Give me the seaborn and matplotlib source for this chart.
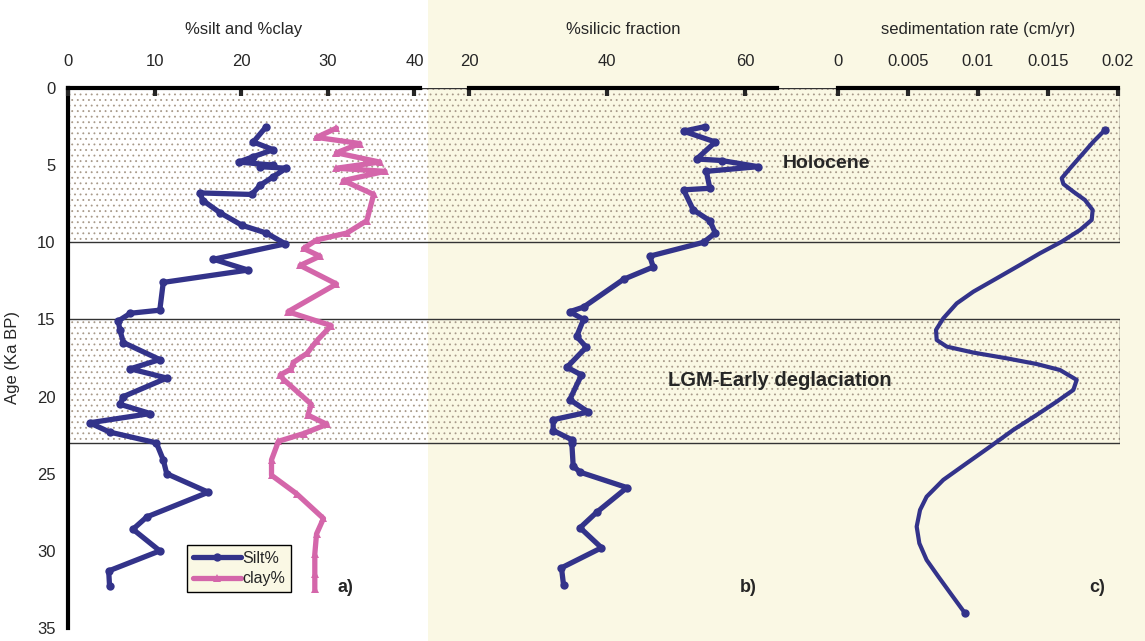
import matplotlib
matplotlib.use("Agg")
import matplotlib.pyplot as plt
import seaborn as sns
from matplotlib.patches import Rectangle

# panel a: silt and clay (%)
silt_age = [2.5, 3.5, 4.0, 4.45, 4.8, 5.0, 5.1, 5.2, 5.75, 6.3, 6.9, 6.8, 7.3, 8.1, 8.9, 9.4, 10.1,
            11.1, 11.8, 12.6, 14.4, 14.6, 15.1, 15.7, 16.5, 17.6, 18.2, 18.8, 20.0, 20.5, 21.1,
            21.7, 22.3, 23.0, 24.1, 25.0, 26.2, 27.8, 28.6, 30.0, 31.3, 32.3]
silt_pct = [22.9, 21.4, 23.7, 21.4, 19.7, 23.7, 22.2, 25.2, 23.7, 22.2, 21.2, 15.2, 15.6, 17.6, 20.1, 22.9, 25.1,
            16.8, 20.8, 11.0, 10.6, 7.2, 5.8, 6.0, 6.4, 10.6, 7.2, 11.4, 6.4, 6.0, 9.5,
            2.5, 4.8, 10.2, 11.0, 11.4, 16.2, 9.1, 7.5, 10.6, 4.7, 4.8]

clay_age = [2.6, 3.2, 3.6, 4.2, 4.8, 5.2, 5.4, 6.0, 6.9, 8.6, 9.4, 9.85, 10.4, 10.9, 11.5, 12.7,
            14.5, 15.4, 16.4, 17.2, 17.8, 18.2, 18.6, 18.9, 20.5, 21.2, 21.8, 22.4, 22.9, 24.1,
            25.1, 26.3, 27.9, 28.9, 30.2, 31.5, 32.5]
clay_pct = [31.0, 28.7, 33.7, 31.0, 36.0, 31.0, 36.6, 31.8, 35.3, 34.5, 32.2, 28.7, 27.2, 29.1, 26.8, 31.0,
            25.4, 30.4, 28.7, 27.6, 26.0, 25.8, 24.5, 24.9, 28.1, 27.7, 29.9, 27.2, 24.3, 23.5,
            23.5, 26.4, 29.5, 28.7, 28.5, 28.5, 28.5]

# panel b: silicic fraction (%)
sil_age = [2.5, 2.8, 3.5, 4.6, 4.7, 5.1, 5.4, 6.5, 6.6, 7.9, 8.6, 9.4, 10.0, 10.9, 11.6, 12.4,
           14.2, 14.5, 15.0, 16.1, 16.8, 18.1, 18.6, 20.2, 21.0, 21.5, 22.2, 22.8, 23.0, 24.5,
           24.9, 25.9, 27.5, 28.5, 29.8, 31.1, 32.2]
sil_pct = [54.2, 51.1, 55.7, 53.0, 56.6, 61.9, 54.4, 54.9, 51.1, 52.5, 54.9, 55.7, 54.0, 46.2, 46.7, 42.4,
           36.6, 34.6, 36.6, 35.6, 37.0, 34.2, 36.3, 34.6, 37.3, 32.2, 32.2, 34.9, 34.9, 35.1,
           36.1, 42.9, 38.5, 36.1, 39.2, 33.4, 33.7]

# panel c: sedimentation rate (cm/yr)
sed_age = [2.72, 3.48, 4.34, 5.21, 5.85, 6.22, 6.72, 7.26, 7.91, 8.55, 9.20, 9.96, 10.71, 11.47,
           12.34, 13.2, 13.96, 14.93, 15.68, 16.33, 16.76, 17.15, 17.52, 17.89, 18.28, 18.92,
           19.57, 20.33, 21.19, 22.16, 23.25, 24.32, 25.4, 26.49, 27.35, 28.43, 29.51, 30.59,
           31.67, 32.86, 34.04]
sed_rate = [0.01907, 0.01824, 0.01741, 0.01657, 0.01598, 0.01610, 0.01681, 0.01764, 0.01819,
            0.01812, 0.01729, 0.01598, 0.01443, 0.0130, 0.01133, 0.00967, 0.00848, 0.00752,
            0.0070, 0.00705, 0.00776, 0.00967, 0.01205, 0.01419, 0.01586, 0.01705, 0.01681,
            0.01562, 0.01419, 0.01252, 0.01086, 0.00919, 0.00752, 0.00633, 0.00586, 0.00562,
            0.00581, 0.00633, 0.00717, 0.00812, 0.00907]

periods = [("Holocene", 0, 10), ("LGM-Early deglaciation", 15, 23)]

BLUE = "#33338a"
PINK = "#d466aa"
CREAM = "#faf8e4"
DOTS = "#a89a8a"

sns.set_style("white")
plt.rcParams["font.family"] = ["Liberation Sans", "DejaVu Sans"]
plt.rcParams["hatch.linewidth"] = 0.6

W, H = 1145, 641
fig = plt.figure(figsize=(11.45, 6.41), dpi=100)
fig.patch.set_facecolor("white")
fig.patches.append(Rectangle((428 / W, 0), 1 - 428 / W, 1, transform=fig.transFigure,
                             facecolor=CREAM, edgecolor="none", zorder=-5))

bottom = (H - 628) / H
height = 540 / H


def px_axes(x0, x1):
    a = fig.add_axes([x0 / W, bottom, (x1 - x0) / W, height])
    a.set_facecolor("none")
    a.set_ylim(35, 0)
    return a


base = px_axes(68, 1120)
base.set_xlim(0, 1)
for s in ["top", "right", "bottom"]:
    base.spines[s].set_visible(False)
base.spines["left"].set_linewidth(3)
base.spines["left"].set_color("black")
base.set_yticks(range(0, 36, 5))
base.tick_params(axis="y", direction="in", length=7, width=3, pad=9, labelsize=12)
base.set_xticks([])
base.set_ylabel("Age (Ka BP)", fontsize=12, labelpad=12)

for name, a0, a1 in periods:
    base.axhspan(a0, a1, facecolor="none", edgecolor=DOTS, hatch="...", lw=0, zorder=1)
    base.add_patch(Rectangle((0, a0), 1, a1 - a0, facecolor="none", edgecolor="#333333",
                             lw=1.0, zorder=2))


def top_axis(a, lo, hi, ticks, ticklabels, label):
    a.set_xlim(lo, hi)
    a.set_xticks(ticks)
    a.set_xticklabels(ticklabels)
    a.xaxis.set_ticks_position("top")
    a.xaxis.set_label_position("top")
    for s in ["left", "right", "bottom"]:
        a.spines[s].set_visible(False)
    a.spines["top"].set_linewidth(3)
    a.spines["top"].set_color("black")
    a.tick_params(axis="x", direction="in", length=6, width=3, pad=14, labelsize=12)
    a.set_yticks([])
    a.set_ylabel("")
    a.set_xlabel(label, fontsize=12, labelpad=14)


ax_a = px_axes(68, 420)
sns.lineplot(x=silt_pct, y=silt_age, sort=False, estimator=None, ax=ax_a, color=BLUE, lw=3.8,
             marker="o", markersize=6, markeredgewidth=0, label="Silt%", zorder=4)
sns.lineplot(x=clay_pct, y=clay_age, sort=False, estimator=None, ax=ax_a, color=PINK, lw=3.8,
             marker="^", markersize=6, markeredgewidth=0, label="clay%", zorder=3)
top_axis(ax_a, 0, 352 / 8.66, [0, 10, 20, 30, 40], ["0", "10", "20", "30", "40"], "%silt and %clay")
leg = ax_a.legend(loc="upper left", bbox_to_anchor=(187 / W, 1 - 545 / H),
                  bbox_transform=fig.transFigure, frameon=True, fancybox=False, fontsize=11.5,
                  handlelength=3.0, handletextpad=0.1, borderpad=0.35, labelspacing=0.35,
                  borderaxespad=0)
leg.get_frame().set_edgecolor("black")
leg.get_frame().set_linewidth(1.0)
leg.get_frame().set_facecolor(CREAM)
leg.get_frame().set_alpha(1)

ax_b = px_axes(469, 777)
sns.lineplot(x=sil_pct, y=sil_age, sort=False, estimator=None, ax=ax_b, color=BLUE, lw=3.8,
             marker="o", markersize=6, markeredgewidth=0, zorder=4)
top_axis(ax_b, 20, 20 + 308 / 6.9, [20, 40, 60], ["20", "40", "60"], "%silicic fraction")

ax_c = px_axes(838, 1118)
sns.lineplot(x=sed_rate, y=sed_age, sort=False, estimator=None, ax=ax_c, color=BLUE, lw=3.0,
             zorder=4)
ax_c.plot([sed_rate[0], sed_rate[-1]], [sed_age[0], sed_age[-1]], ls="none", marker="o",
          ms=5, color=BLUE, zorder=4)
top_axis(ax_c, 0, 0.02, [0, 0.005, 0.01, 0.015, 0.02], ["0", "0.005", "0.01", "0.015", "0.02"],
         "sedimentation rate (cm/yr)")

fig.text(783 / W, 1 - 163 / H, "Holocene", fontsize=14, fontweight="bold", va="center")
fig.text(780 / W, 1 - 380 / H, "LGM-Early deglaciation", fontsize=14.5, fontweight="bold",
         va="center", ha="center")
for lab, xp in [("a)", 345), ("b)", 748), ("c)", 1097)]:
    fig.text(xp / W, 1 - 588 / H, lab, fontsize=13, fontweight="bold", va="center", ha="center")

fig.savefig("out.png", dpi=100)
